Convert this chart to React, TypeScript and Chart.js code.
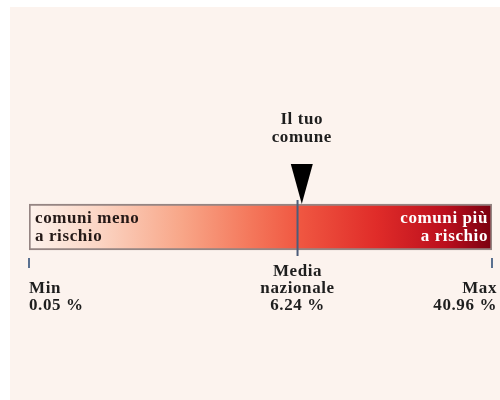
import React, { useEffect, useRef } from "react";
import { Chart, registerables, LinearScale } from "chart.js";

// ---- data ----
const MIN_VALUE = 0.05;
const MEDIA_VALUE = 6.24;
const MAX_VALUE = 40.96;
const USER_VALUE = 7.0;
const MEDIA_FRACTION = 0.58; // position of the national mean along the bar
const MIN_LABEL = ["Min", "0.05 %"];
const MEDIA_LABEL = ["Media", "nazionale", "6.24 %"];
const MAX_LABEL = ["Max", "40.96 %"];
const USER_LABEL = ["Il tuo", "comune"];
const LOW_LABEL = ["comuni meno", "a rischio"];
const HIGH_LABEL = ["comuni più", "a rischio"];
const GRADIENT_STOPS: [number, string][] = [
  [0, "#fdf2ec"],
  [0.15, "#fbd5c4"],
  [0.33, "#f8a688"],
  [0.48, "#f4775b"],
  [0.58, "#f05842"],
  [0.75, "#e02c29"],
  [0.9, "#bb0f1d"],
  [1, "#7a0010"],
];

function valueToFraction(v: number) {
  if (v <= MEDIA_VALUE) return ((v - MIN_VALUE) / (MEDIA_VALUE - MIN_VALUE)) * MEDIA_FRACTION;
  return MEDIA_FRACTION + ((v - MEDIA_VALUE) / (MAX_VALUE - MEDIA_VALUE)) * (1 - MEDIA_FRACTION);
}
function fractionToValue(f: number) {
  if (f <= MEDIA_FRACTION) return MIN_VALUE + (f / MEDIA_FRACTION) * (MEDIA_VALUE - MIN_VALUE);
  return MEDIA_VALUE + ((f - MEDIA_FRACTION) / (1 - MEDIA_FRACTION)) * (MAX_VALUE - MEDIA_VALUE);
}

class PiecewiseScale extends LinearScale {
  static id = "piecewise";
  static defaults = {};
  getPixelForValue(value: number) {
    return (this as any).getPixelForDecimal(valueToFraction(value));
  }
  getValueForPixel(pixel: number) {
    return fractionToValue((this as any).getDecimalForPixel(pixel));
  }
}

Chart.register(...registerables, PiecewiseScale as any);

const FONT = 'bold 17px "Liberation Serif", "Times New Roman", serif';

const decorPlugin = {
  id: "decor",
  beforeDraw(chart: any) {
    const ctx = chart.ctx;
    ctx.save();
    ctx.fillStyle = "#ffffff";
    ctx.fillRect(0, 0, chart.width, chart.height);
    ctx.fillStyle = "#fcf3ee";
    ctx.fillRect(10, 7, chart.width - 10, chart.height - 7);
    ctx.restore();
  },
  afterDatasetsDraw(chart: any) {
    const ctx = chart.ctx;
    const xs = chart.scales.x;
    const area = chart.chartArea;
    const meta = chart.getDatasetMeta(0);
    const bar = meta.data[0];
    const barTop = bar.y - bar.height / 2;
    const barBottom = bar.y + bar.height / 2;
    const xMin = xs.getPixelForValue(MIN_VALUE);
    const xMax = xs.getPixelForValue(MAX_VALUE);
    const xMed = xs.getPixelForValue(MEDIA_VALUE);
    const xUser = xs.getPixelForValue(USER_VALUE);

    ctx.save();
    ctx.font = FONT;
    ctx.textBaseline = "middle";
    (ctx as any).letterSpacing = "0.6px";

    // text inside bar
    ctx.fillStyle = "#241816";
    ctx.textAlign = "left";
    LOW_LABEL.forEach((t, i) => ctx.fillText(t, xMin + 6, barTop + 15 + i * 18));
    ctx.fillStyle = "#ffffff";
    ctx.textAlign = "right";
    HIGH_LABEL.forEach((t, i) => ctx.fillText(t, xMax - 4, barTop + 15 + i * 18));

    // media line
    ctx.strokeStyle = "#4b5d7a";
    ctx.lineWidth = 2;
    ctx.beginPath();
    ctx.moveTo(xMed, barTop - 4);
    ctx.lineTo(xMed, barBottom + 6);
    ctx.stroke();

    // min / max ticks
    ctx.strokeStyle = "#5a7090";
    [xMin, xMax].forEach((x) => {
      ctx.beginPath();
      ctx.moveTo(x, barBottom + 8);
      ctx.lineTo(x, barBottom + 18);
      ctx.stroke();
    });

    // triangle marker
    ctx.fillStyle = "#000000";
    ctx.beginPath();
    ctx.moveTo(xUser - 11, barTop - 40);
    ctx.lineTo(xUser + 11, barTop - 40);
    ctx.lineTo(xUser, barTop);
    ctx.closePath();
    ctx.fill();

    // labels
    ctx.fillStyle = "#1e1e1e";
    ctx.textAlign = "center";
    USER_LABEL.forEach((t, i) => ctx.fillText(t, xUser, barTop - 84 + i * 18));
    MEDIA_LABEL.forEach((t, i) => ctx.fillText(t, xMed, barBottom + 22 + i * 17));
    ctx.textAlign = "left";
    MIN_LABEL.forEach((t, i) => ctx.fillText(t, xMin, barBottom + 39 + i * 17));
    ctx.textAlign = "right";
    MAX_LABEL.forEach((t, i) => ctx.fillText(t, area.right + 5, barBottom + 39 + i * 17));
    ctx.restore();
  },
};

export default function App() {
  const ref = useRef<HTMLCanvasElement>(null);
  useEffect(() => {
    if (!ref.current) return;
    const chart = new Chart(ref.current, {
      type: "bar",
      data: {
        labels: [""],
        datasets: [
          {
            data: [[MIN_VALUE, MAX_VALUE]] as any,
            backgroundColor: (c: any) => {
              const ch = c.chart;
              const a = ch.chartArea;
              if (!a || !isFinite(a.left) || !isFinite(a.right)) return GRADIENT_STOPS[0][1];
              const g = ch.ctx.createLinearGradient(a.left, 0, a.right, 0);
              GRADIENT_STOPS.forEach(([o, col]) => g.addColorStop(o, col));
              return g;
            },
            borderColor: "rgba(80,60,60,0.6)",
            borderWidth: 2,
            borderSkipped: false,
            barThickness: 46,
          },
        ],
      },
      options: {
        indexAxis: "y",
        responsive: false,
        animation: false,
        layout: { padding: { left: 29, right: 8, top: 154, bottom: 100 } },
        plugins: { legend: { display: false }, tooltip: { enabled: false } },
        scales: {
          x: { type: "piecewise" as any, min: MIN_VALUE, max: MAX_VALUE, display: false },
          y: { type: "category", display: false },
        },
      },
      plugins: [decorPlugin],
    });
    return () => chart.destroy();
  }, []);
  return (
    <div style={{ position: "absolute", left: 0, top: 0, width: 500, height: 400 }}>
      <canvas ref={ref} width={500} height={400} />
    </div>
  );
}
